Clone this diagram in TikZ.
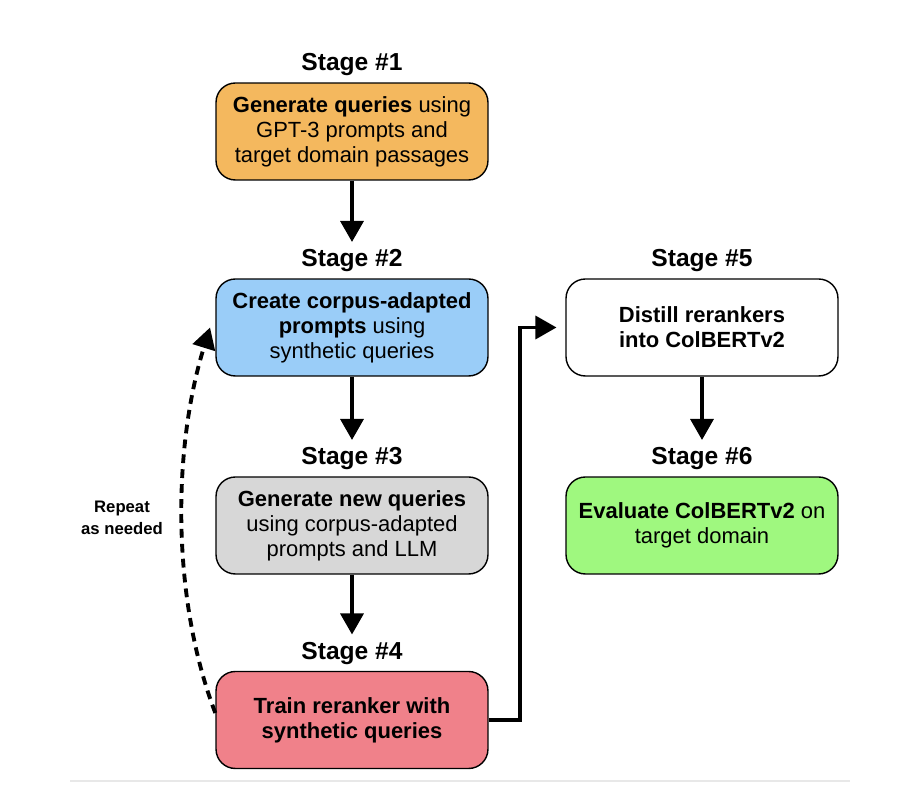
\documentclass[tikz,border=0pt]{standalone}
\usepackage{fontspec}
\setmainfont{Liberation Sans}
\usepackage{tikz}
\usetikzlibrary{positioning,arrows.meta}

\definecolor{stageorange}{HTML}{F4B85E}
\definecolor{stageblue}{HTML}{9ACDF8}
\definecolor{stagegray}{HTML}{D7D7D7}
\definecolor{stagered}{HTML}{F0818A}
\definecolor{stagegreen}{HTML}{9FF87F}
\definecolor{rulegray}{HTML}{E8E8E8}

\tikzset{
  stagebox/.style={draw=black, line width=0.8pt, rounded corners=11pt,
    minimum width=5.44cm, minimum height=1.94cm, align=center,
    font=\fontsize{12.5}{14.2}\selectfont},
  stagetitle/.style={font=\fontsize{14}{16}\selectfont\bfseries, inner sep=0pt},
  flow/.style={-{Triangle[length=12pt,width=13pt]}, line width=2.2pt}
}

\begin{document}
\begin{tikzpicture}[x=0.02cm, y=-0.02cm]
				\useasboundingbox (0,0) rectangle (904,786);
				\node[stagebox, fill=stageorange] (S1) at (352,131.5) {\textbf{Generate queries} using\\GPT-3 prompts and\\target domain passages};
				\node[stagebox, fill=stageblue] (S2) at (352,327.5) {\textbf{Create corpus-adapted}\\\textbf{prompts} using\\synthetic queries};
				\node[stagebox, fill=stagegray] (S3) at (352,525.5) {\textbf{Generate new queries}\\using corpus-adapted\\prompts and LLM};
				\node[stagebox, fill=stagered] (S4) at (352,720) {\textbf{Train reranker with}\\\textbf{synthetic queries}};
				\node[stagebox, fill=white] (S5) at (702,327.5) {\textbf{Distill rerankers}\\\textbf{into ColBERTv2}};
				\node[stagebox, fill=stagegreen] (S6) at (702,525.5) {\textbf{Evaluate ColBERTv2} on\\target domain};
				\node[stagetitle, above=3.5pt of S1] (T1) {Stage \#1};
				\node[stagetitle, above=3.5pt of S2] (T2) {Stage \#2};
				\node[stagetitle, above=3.5pt of S3] (T3) {Stage \#3};
				\node[stagetitle, above=3.5pt of S4] (T4) {Stage \#4};
				\node[stagetitle, above=3.5pt of S5] (T5) {Stage \#5};
				\node[stagetitle, above=3.5pt of S6] (T6) {Stage \#6};
				\node[align=center, font=\fontsize{9.5}{12.5}\selectfont\bfseries] (R) at (122,518) {Repeat\\as needed};
				\coordinate (C4) at ([xshift=18pt]S4.east);
				\draw[flow, shorten >=4pt] (S1) -- (T2);
				\draw[flow, shorten >=4pt] (S2) -- (T3);
				\draw[flow, shorten >=4pt] (S3) -- (T4);
				\draw[flow, shorten >=4pt] (S5) -- (T6);
				\draw[flow, shorten >=5pt] (S4.east) -- (C4) |- (S5.west);
				\draw[flow, dash pattern=on 5pt off 3.5pt] ([yshift=4pt]S4.west) .. controls (172,600) and (172,450) .. ([xshift=-3pt]S2.west);
				\draw[rulegray, line width=1pt] (70,781) -- (850,781);
			\end{tikzpicture}
\end{document}
